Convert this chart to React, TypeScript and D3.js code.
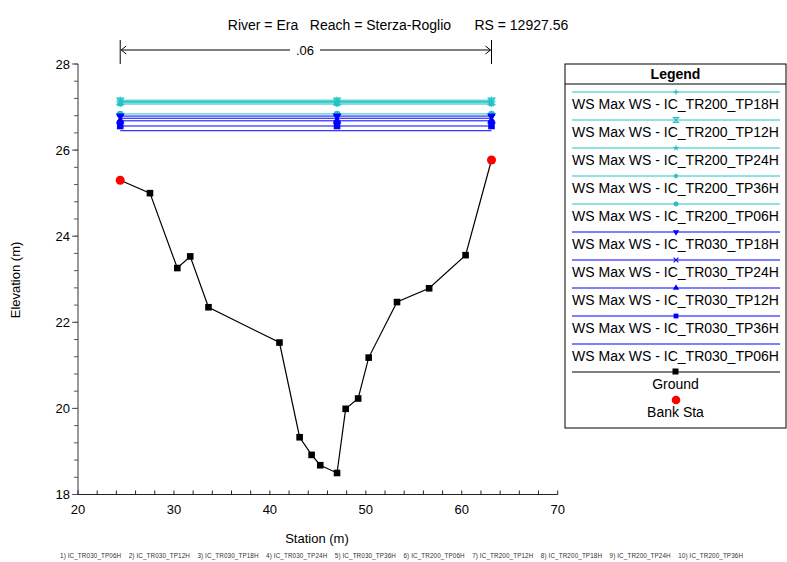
import React from "react";
import * as d3 from "d3";

const groundStation = [24.4, 27.5, 30.35, 31.7, 33.6, 41.0, 43.1, 44.35, 45.25, 47.0, 47.9, 49.2, 50.3, 53.25, 56.6, 60.4, 63.1];
const groundElev = [25.3, 25.0, 23.26, 23.53, 22.35, 21.53, 19.33, 18.92, 18.68, 18.5, 19.99, 20.23, 21.18, 22.47, 22.79, 23.56, 25.77];
const bankStation = [24.4, 63.1];
const bankElev = [25.3, 25.77];
const wsStations = [24.4, 47.0, 63.1];
const wsNames = [
  "WS Max WS - IC_TR200_TP18H",
  "WS Max WS - IC_TR200_TP12H",
  "WS Max WS - IC_TR200_TP24H",
  "WS Max WS - IC_TR200_TP36H",
  "WS Max WS - IC_TR200_TP06H",
  "WS Max WS - IC_TR030_TP18H",
  "WS Max WS - IC_TR030_TP24H",
  "WS Max WS - IC_TR030_TP12H",
  "WS Max WS - IC_TR030_TP36H",
  "WS Max WS - IC_TR030_TP06H",
];
const wsElev = [27.16, 27.13, 27.1, 27.07, 26.84, 26.79, 26.74, 26.68, 26.56, 26.45];
const wsMarker = ["plus", "hourglass", "star", "asterisk", "circle", "tridown", "cross", "triangle", "square", "none"];
const xTicks = [20, 30, 40, 50, 60, 70];
const yTicks = [18, 20, 22, 24, 26, 28];
const footnotes = [
  "1) IC_TR030_TP06H", "2) IC_TR030_TP12H", "3) IC_TR030_TP18H", "4) IC_TR030_TP24H", "5) IC_TR030_TP36H",
  "6) IC_TR200_TP06H", "7) IC_TR200_TP12H", "8) IC_TR200_TP18H", "9) IC_TR200_TP24H", "10) IC_TR200_TP36H",
];

const CYAN = "#22C3C3";
const BLUE = "#0000FF";
const FONT = "Arial, 'Liberation Sans', sans-serif";

function Marker({ kind, x, y, color, k = 1 }: { kind: string; x: number; y: number; color: string; k?: number }) {
  const s = 3 * k;
  switch (kind) {
    case "plus":
      return <path d={`M${x - s},${y}H${x + s}M${x},${y - s}V${y + s}`} stroke={color} strokeWidth={1.3} />;
    case "hourglass":
      return <path d={`M${x - s},${y - s}H${x + s}L${x - s},${y + s}H${x + s}Z`} fill="none" stroke={color} strokeWidth={1.1} />;
    case "star":
      return <path d={d3.symbol(d3.symbolStar, 22 * k * k)() as string} transform={`translate(${x},${y})`} fill={color} />;
    case "asterisk":
      return <path d={d3.symbol(d3.symbolAsterisk, 20 * k * k)() as string} transform={`translate(${x},${y})`} stroke={color} strokeWidth={1.4} fill="none" />;
    case "circle":
      return <circle cx={x} cy={y} r={3 * k} fill={color} />;
    case "tridown":
      return <path d={d3.symbol(d3.symbolTriangle, 28 * k * k)() as string} transform={`translate(${x},${y}) rotate(180)`} fill={color} />;
    case "cross":
      return <path d={`M${x - s},${y - s}L${x + s},${y + s}M${x - s},${y + s}L${x + s},${y - s}`} stroke={color} strokeWidth={1.1} />;
    case "triangle":
      return <path d={d3.symbol(d3.symbolTriangle, 28 * k * k)() as string} transform={`translate(${x},${y})`} fill={color} />;
    case "square":
      return <rect x={x - 3 * k} y={y - 3 * k} width={6 * k} height={6 * k} fill={color} />;
    default:
      return null;
  }
}

export default function App() {
  const x = d3.scaleLinear().domain([20, 70]).range([78, 557.7]);
  const y = d3.scaleLinear().domain([18, 28]).range([494.5, 64]);
  const line = d3.line<number>().x((_, i) => x(groundStation[i])).y((d) => y(d));

  const xMinor = d3.range(20, 70.01, 2);
  const yMinor = d3.range(18, 28.01, 0.4);

  const legX0 = 565, legX1 = 786, legTop = 64, legHead = 84, legBot = 428;
  const legCx = (legX0 + legX1) / 2;
  const rowH = 28;

  const arrowY = 50;
  const xl = x(bankStation[0]), xr = x(bankStation[1]);

  return (
    <svg width={787} height={562} style={{ position: "absolute", left: 0, top: 0, background: "#fff" }} fontFamily={FONT}>
      <rect width={787} height={562} fill="#fff" />
      {/* title */}
      <text x={398} y={30} textAnchor="middle" fontSize={14} fill="#000" xmlSpace="preserve">
        {"River = Era   Reach = Sterza-Roglio      RS = 12927.56"}
      </text>
      {/* manning n */}
      <line x1={xl} x2={xl} y1={40} y2={64} stroke="#000" />
      <line x1={xr} x2={xr} y1={40} y2={64} stroke="#000" />
      <line x1={xl + 1} x2={290} y1={arrowY} y2={arrowY} stroke="#000" />
      <line x1={320} x2={xr - 1} y1={arrowY} y2={arrowY} stroke="#000" />
      <path d={`M${xl + 6},${arrowY - 4}L${xl + 1},${arrowY}L${xl + 6},${arrowY + 4}`} fill="none" stroke="#000" />
      <path d={`M${xr - 6},${arrowY - 4}L${xr - 1},${arrowY}L${xr - 6},${arrowY + 4}`} fill="none" stroke="#000" />
      <text x={305} y={arrowY + 5} textAnchor="middle" fontSize={13}>.06</text>

      {/* axes */}
      <line x1={78} x2={78} y1={64} y2={494.5} stroke="#555" strokeWidth={1.2} />
      <line x1={78} x2={557.7} y1={494.5} y2={494.5} stroke="#222" strokeWidth={1.2} />
      {yMinor.map((v, i) => (
        <line key={"ym" + i} x1={74} x2={78} y1={y(v)} y2={y(v)} stroke="#555" />
      ))}
      {yTicks.map((v) => (
        <g key={"yt" + v}>
          <line x1={72} x2={78} y1={y(v)} y2={y(v)} stroke="#555" />
          <text x={70} y={y(v) + 4.5} textAnchor="end" fontSize={13}>{v}</text>
        </g>
      ))}
      {xMinor.map((v, i) => (
        <line key={"xm" + i} x1={x(v)} x2={x(v)} y1={494.5} y2={490.5} stroke="#222" />
      ))}
      {xTicks.map((v) => (
        <text key={"xt" + v} x={x(v)} y={514} textAnchor="middle" fontSize={13}>{v}</text>
      ))}
      <text x={317} y={543} textAnchor="middle" fontSize={13}>Station (m)</text>
      <text transform="translate(20,280) rotate(-90)" textAnchor="middle" fontSize={13}>Elevation (m)</text>

      {/* WS lines */}
      {wsElev.map((e, i) => {
        const c = i < 5 ? CYAN : BLUE;
        return (
          <g key={"ws" + i}>
            <line x1={x(wsStations[0])} x2={x(wsStations[wsStations.length - 1])} y1={y(e)} y2={y(e)} stroke={c} strokeWidth={1} />
            {wsStations.map((s, j) => (
              <Marker key={j} kind={wsMarker[i]} x={x(s)} y={y(e)} color={c} k={1.1} />
            ))}
          </g>
        );
      })}

      {/* ground */}
      <path d={line(groundElev) as string} fill="none" stroke="#000" strokeWidth={1.2} />
      {groundElev.map((e, i) =>
        i === 0 || i === groundElev.length - 1 ? null : (
          <rect key={"g" + i} x={x(groundStation[i]) - 3.3} y={y(e) - 3.3} width={6.6} height={6.6} fill="#000" />
        )
      )}
      {bankElev.map((e, i) => (
        <circle key={"b" + i} cx={x(bankStation[i])} cy={y(e)} r={4.5} fill="#FF0000" />
      ))}

      {/* legend */}
      <rect x={legX0} y={legTop} width={legX1 - legX0} height={legBot - legTop} fill="#fff" stroke="#000" />
      <line x1={legX0} x2={legX1} y1={legHead} y2={legHead} stroke="#000" />
      <text x={legCx} y={78.5} textAnchor="middle" fontSize={14} fontWeight="bold">Legend</text>
      {wsNames.map((n, i) => {
        const ly = 92 + i * rowH;
        const c = i < 5 ? CYAN : BLUE;
        return (
          <g key={"lg" + i}>
            <line x1={572} x2={780} y1={ly} y2={ly} stroke={c} strokeWidth={1.2} />
            <Marker kind={wsMarker[i]} x={676} y={ly} color={c} k={0.8} />
            <text x={legCx} y={ly + 17} textAnchor="middle" fontSize={14}>{n}</text>
          </g>
        );
      })}
      <line x1={572} x2={780} y1={372} y2={372} stroke="#000" strokeWidth={1.2} />
      <rect x={672.5} y={368.5} width={6} height={6} fill="#000" />
      <text x={legCx} y={389} textAnchor="middle" fontSize={14}>Ground</text>
      <circle cx={676} cy={400} r={4.3} fill="#FF0000" />
      <text x={legCx} y={417} textAnchor="middle" fontSize={14}>Bank Sta</text>

      {/* footnotes */}
      <text x={60} y={558} fontSize={6.3} fill="#333" xmlSpace="preserve" textLength={683} lengthAdjust="spacing">
        {footnotes.join("    ")}
      </text>
    </svg>
  );
}
